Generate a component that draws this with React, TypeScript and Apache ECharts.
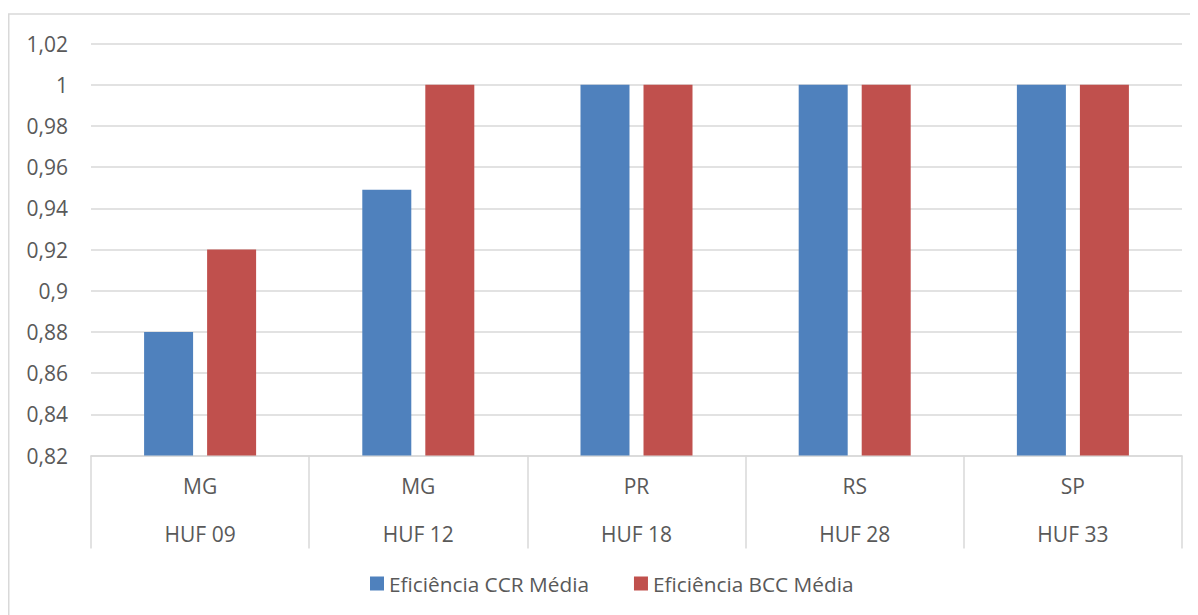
import React, { useEffect, useRef } from "react";
import * as echarts from "echarts";

const states = ["MG", "MG", "PR", "RS", "SP"];
const units = ["HUF 09", "HUF 12", "HUF 18", "HUF 28", "HUF 33"];
const ccrValues = [0.88, 0.949, 1, 1, 1];
const bccValues = [0.92, 1, 1, 1, 1];
const seriesNames = ["Eficiência CCR Média", "Eficiência BCC Média"];
const yMin = 0.82;
const yMax = 1.02;
const yStep = 0.02;

const FONT = "Open Sans";
const TEXT = "#595959";
const LINE = "#d9d9d9";

export default function App() {
  const ref = useRef<HTMLDivElement>(null);
  useEffect(() => {
    if (!ref.current) return;
    const chart = echarts.init(ref.current, undefined, { renderer: "svg" });
    const categories = units.map((u, i) => `${states[i]}\n\n${u}`);
    chart.setOption({
      animation: false,
      backgroundColor: "#ffffff",
      textStyle: { fontFamily: FONT, color: TEXT },
      graphic: [
        {
          type: "rect",
          shape: { x: 0.75, y: 6, width: 1400, height: 800 },
          style: { fill: "none", stroke: LINE, lineWidth: 1.5 },
          silent: true,
          z: -1,
        },
      ],
      grid: { left: 83, right: 8, top: 35.5, bottom: 159.5, containLabel: false },
      legend: {
        left: 357,
        top: 560,
        itemWidth: 14,
        itemHeight: 14,
        itemGap: 45,
        icon: "rect",
        textStyle: { fontFamily: FONT, fontSize: 20.8, color: TEXT, padding: [0, 0, 0, 0] },
        data: seriesNames,
      },
      xAxis: {
        type: "category",
        data: categories,
        axisLine: { show: true, lineStyle: { color: LINE, width: 1.5 } },
        axisTick: { show: true, length: 93, lineStyle: { color: LINE, width: 1.5 } },
        axisLabel: {
          fontFamily: FONT,
          fontSize: 21,
          color: TEXT,
          lineHeight: 24,
          margin: 18,
          interval: 0,
        },
        splitLine: { show: false },
      },
      yAxis: {
        type: "value",
        min: yMin,
        max: yMax,
        interval: yStep,
        axisLine: { show: false },
        axisTick: { show: false },
        axisLabel: {
          fontFamily: FONT,
          fontSize: 21,
          color: TEXT,
          margin: 23,
          formatter: (v: number) => String(Math.round(v * 100) / 100).replace(".", ","),
        },
        splitLine: { show: true, lineStyle: { color: LINE, width: 1.5 } },
      },
      series: [
        {
          name: seriesNames[0],
          type: "bar",
          data: ccrValues,
          barWidth: 49,
          barGap: "28.6%",
          itemStyle: { color: "#4f81bd" },
        },
        {
          name: seriesNames[1],
          type: "bar",
          data: bccValues,
          barWidth: 49,
          barGap: "28.6%",
          itemStyle: { color: "#c0504d" },
        },
      ],
    });
    return () => chart.dispose();
  }, []);
  return <div ref={ref} style={{ width: 1182, height: 607 }} />;
}
